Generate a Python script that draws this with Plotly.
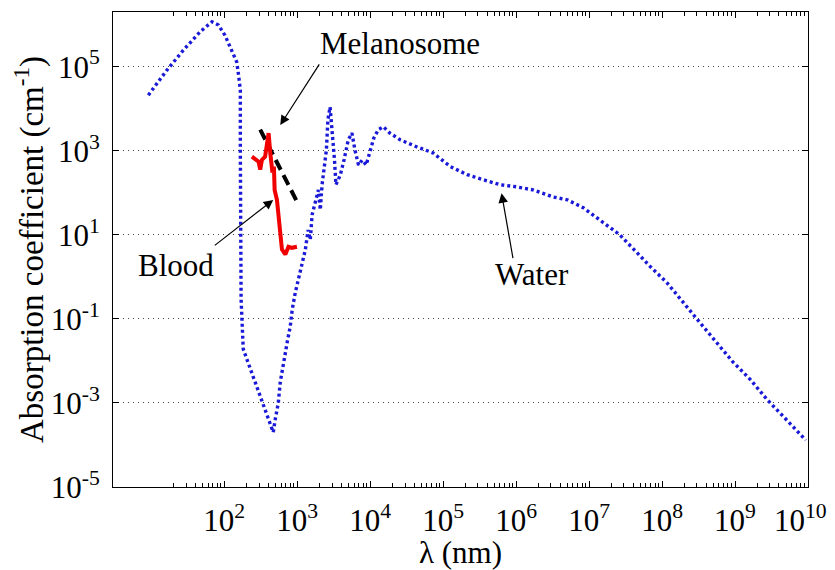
import plotly.graph_objects as go

# ---------------- data ----------------
water_nm = [9.1, 16.4, 27.7, 46.9, 67.9, 83, 102, 127, 148, 157, 166, 166, 166, 170, 182,
            242, 283, 342, 401, 469, 500, 550, 585, 643, 729, 802, 855, 940, 1100, 1290,
            1410, 1510, 1600, 1780, 1950, 2070, 2190, 2510, 2630, 2820, 3020, 3240, 3390,
            3890, 4370, 5010, 5620, 6170, 6920, 7760, 8810, 1.0e4, 1.12e4, 1.29e4, 1.51e4,
            1.86e4, 2.57e4, 4.37e4, 7.24e4, 1.26e5, 2.14e5, 3.55e5, 6.03e5, 1.02e6, 1.70e6,
            3.24e6, 5.01e6, 8.32e6, 1.55e7, 2.63e7, 4.57e7, 6.92e7, 1.17e8, 1.95e8, 3.31e8,
            5.62e8, 9.33e8, 1.62e9, 2.75e9, 4.57e9, 9.33e9]
water_abs = [2.1e4, 8.3e4, 2.5e5, 6.8e5, 1.17e6, 9.8e5, 5.6e5, 2.5e5, 1.3e5, 6.3e4, 2.8e4,
             1.0e3, 10, 0.29, 0.019, 4.8e-3, 2.5e-3, 1.0e-3, 4.8e-4, 2.0e-4, 4.1e-4, 1.0e-3,
             3.1e-3, 9.1e-3, 0.028, 0.066, 0.17, 0.42, 1.26, 4.4, 13, 7.6, 30, 68, 117, 39,
             155, 1050, 5400, 1.1e4, 3200, 600, 155, 263, 600, 1820, 2630, 1050, 457, 600,
             457, 1050, 2000, 3160, 3720, 2630, 1820, 1230, 890, 417, 269, 204, 155, 138, 117,
             79, 68, 44, 20, 10, 3.7, 1.74, 0.72, 0.24, 0.081, 0.027, 9.5e-3, 3.6e-3, 1.2e-3,
             4.8e-4, 1.3e-4]

blood_nm = [239, 295, 311, 328, 363, 405, 427, 457, 479, 490, 527, 555, 585, 617, 686, 759, 845, 991]
blood_abs = [724, 550, 355, 603, 724, 2630, 891, 302, 417, 117, 68, 23, 7.6, 4.5, 3.4, 5.2, 4.9, 5.2]

melanosome_nm = [311, 990]
melanosome_abs = [3160, 62]

x_tick_vals = [1e2, 1e3, 1e4, 1e5, 1e6, 1e7, 1e8, 1e9, 1e10]
x_tick_text = ["10<sup>2</sup>", "10<sup>3</sup>", "10<sup>4</sup>", "10<sup>5</sup>", "10<sup>6</sup>",
               "10<sup>7</sup>", "10<sup>8</sup>", "10<sup>9</sup>",
               "10<sup>10</sup>\u00a0\u00a0"]  # last label nudged left to stay inside the page
y_tick_vals = [1e-5, 1e-3, 1e-1, 1e1, 1e3, 1e5]
y_tick_text = ["10<sup>-5</sup>", "10<sup>-3</sup>", "10<sup>-1</sup>", "10<sup>1</sup>",
               "10<sup>3</sup>", "10<sup>5</sup>"]

# minor tick positions on the log x axis (2..9 x 10^d)
x_minor = [m * 10 ** d for d in range(1, 10) for m in range(2, 10)]

FONT = "Liberation Serif, Times New Roman, serif"
FS_TICK = 31
FS_TEXT = 31

fig = go.Figure()
fig.add_trace(go.Scatter(x=water_nm, y=water_abs, mode="lines", name="Water",
                         line=dict(color="rgb(25,25,215)", width=3.4, dash="3px,3px")))
fig.add_trace(go.Scatter(x=melanosome_nm, y=melanosome_abs, mode="lines", name="Melanosome",
                         line=dict(color="black", width=4, dash="11px,6px")))
fig.add_trace(go.Scatter(x=blood_nm, y=blood_abs, mode="lines", name="Blood",
                         line=dict(color="rgb(240,0,0)", width=4)))

# labels with arrows (positions in log10 units)
arrows = [
    # tip x, tip y, tail x, tail y
    (2.767, 3.61, 3.315, 5.09),
    (2.671, 1.83, 1.849, 0.72),
    (5.80, 1.99, 5.96, 0.41),
]
for tx, ty, ax, ay in arrows:
    fig.add_annotation(x=tx, y=ty, ax=ax, ay=ay, xref="x", yref="y", axref="x", ayref="y",
                       text="", showarrow=True, arrowhead=2, arrowsize=1.6, arrowwidth=1.2,
                       arrowcolor="black")
labels = [("Melanosome", 4.41, 5.54), ("Blood", 1.342, 0.264), ("Water", 6.22, 0.05)]
for txt, lx, ly in labels:
    fig.add_annotation(x=lx, y=ly, xref="x", yref="y", text=txt, showarrow=False,
                       font=dict(family=FONT, size=FS_TEXT, color="black"))

# the page body has an 8px default margin, so the figure is made 8px smaller
fig.update_layout(
    width=827, height=562,
    margin=dict(l=105, r=27, t=4, b=83, autoexpand=False),
    paper_bgcolor="white", plot_bgcolor="white",
    showlegend=False,
    font=dict(family=FONT, size=FS_TEXT, color="black"),
)
fig.update_xaxes(
    type="log", range=[0.475, 10], automargin=False,
    tickvals=x_tick_vals, ticktext=x_tick_text, ticklabeloverflow="allow",
    ticks="inside", ticklen=6, tickcolor="black", tickwidth=1,
    minor=dict(tickvals=x_minor, ticks="inside", ticklen=4, tickcolor="black", showgrid=False),
    showline=True, linecolor="black", linewidth=1, mirror="ticks",
    showgrid=False, zeroline=False,
    ticklabelstandoff=6,
    title=dict(text="λ (nm)", font=dict(family=FONT, size=FS_TEXT), standoff=0),
    tickfont=dict(family=FONT, size=FS_TICK),
)
fig.update_yaxes(
    type="log", range=[-5, 6.3], automargin=False,
    tickvals=y_tick_vals, ticktext=y_tick_text,
    ticks="inside", ticklen=6, tickcolor="black", tickwidth=1,
    showline=True, linecolor="black", linewidth=1, mirror="ticks",
    showgrid=True, gridcolor="rgb(70,70,70)", griddash="1px,4px", gridwidth=1,
    zeroline=False,
    ticklabelstandoff=6,
    title=dict(text="Absorption coefficient (cm<sup>-1</sup>)", font=dict(family=FONT, size=33), standoff=2),
    tickfont=dict(family=FONT, size=FS_TICK),
)

fig.write_html("out.html")
